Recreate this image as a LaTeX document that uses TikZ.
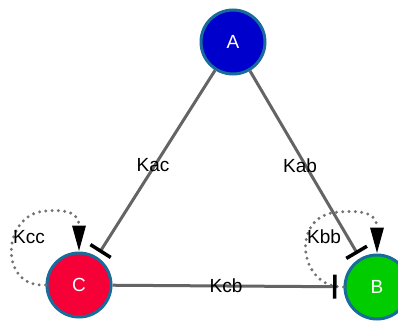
\documentclass[tikz,border=0pt]{standalone}
\usepackage{fontspec}
\setmainfont{Liberation Sans}
\usetikzlibrary{arrows.meta}
\definecolor{nodeborder}{RGB}{24,108,156}
\definecolor{afill}{RGB}{0,0,204}
\definecolor{bfill}{RGB}{0,204,0}
\definecolor{cfill}{RGB}{245,0,55}
\definecolor{edgegray}{RGB}{100,100,100}
\definecolor{dotgray}{RGB}{115,115,115}
\tikzset{
  species/.style={circle, draw=nodeborder, line width=3pt, minimum size=64pt, inner sep=0pt,
    text=white, font=\fontsize{19}{19}\selectfont},
  edge/.style={draw=edgegray, line width=3pt},
  inhib/.style={-{Bar[width=24pt,line width=3.5pt,color=black]}, shorten >=5pt},
  selfloop/.style={draw=dotgray, line width=3.3pt, line cap=round, dash pattern=on 0pt off 6.3pt,
    -{Triangle[length=26pt,width=13pt,color=black]}},
  lbl/.style={font=\fontsize{19}{19}\selectfont, text=black, inner sep=0pt}
}
\begin{document}
\begin{tikzpicture}[x=1pt,y=-1pt]
\useasboundingbox (0,0) rectangle (398,321);
\node[species, fill=afill] (A) at (233,42) {A};
\node[species, fill=bfill] (B) at (377,287) {B};
\node[species, fill=cfill] (C) at (79,285) {C};
% self loops
\draw[selfloop] (C.west) .. controls (-2,288) and (2,214) .. (45,211) .. controls (70,209) and (79,214) .. (C.north);
\draw[selfloop] (B.west) .. controls (298,288) and (290,215) .. (338,212) .. controls (366,210) and (377,214) .. (B.north);
% edges
\draw[edge, inhib] (A) -- (C);
\draw[edge, inhib] (A) -- (B);
\draw[edge, inhib, shorten >=7pt] (C) -- (B);
% labels
\node[lbl] (kac) at (153,165) {Kac};
\node[lbl] (kab) at (300,166) {Kab};
\node[lbl] (kcb) at (226,286) {Kcb};
\node[lbl] (kcc) at (29,237) {Kcc};
\node[lbl] (kbb) at (324,237) {Kbb};
\end{tikzpicture}
\end{document}
